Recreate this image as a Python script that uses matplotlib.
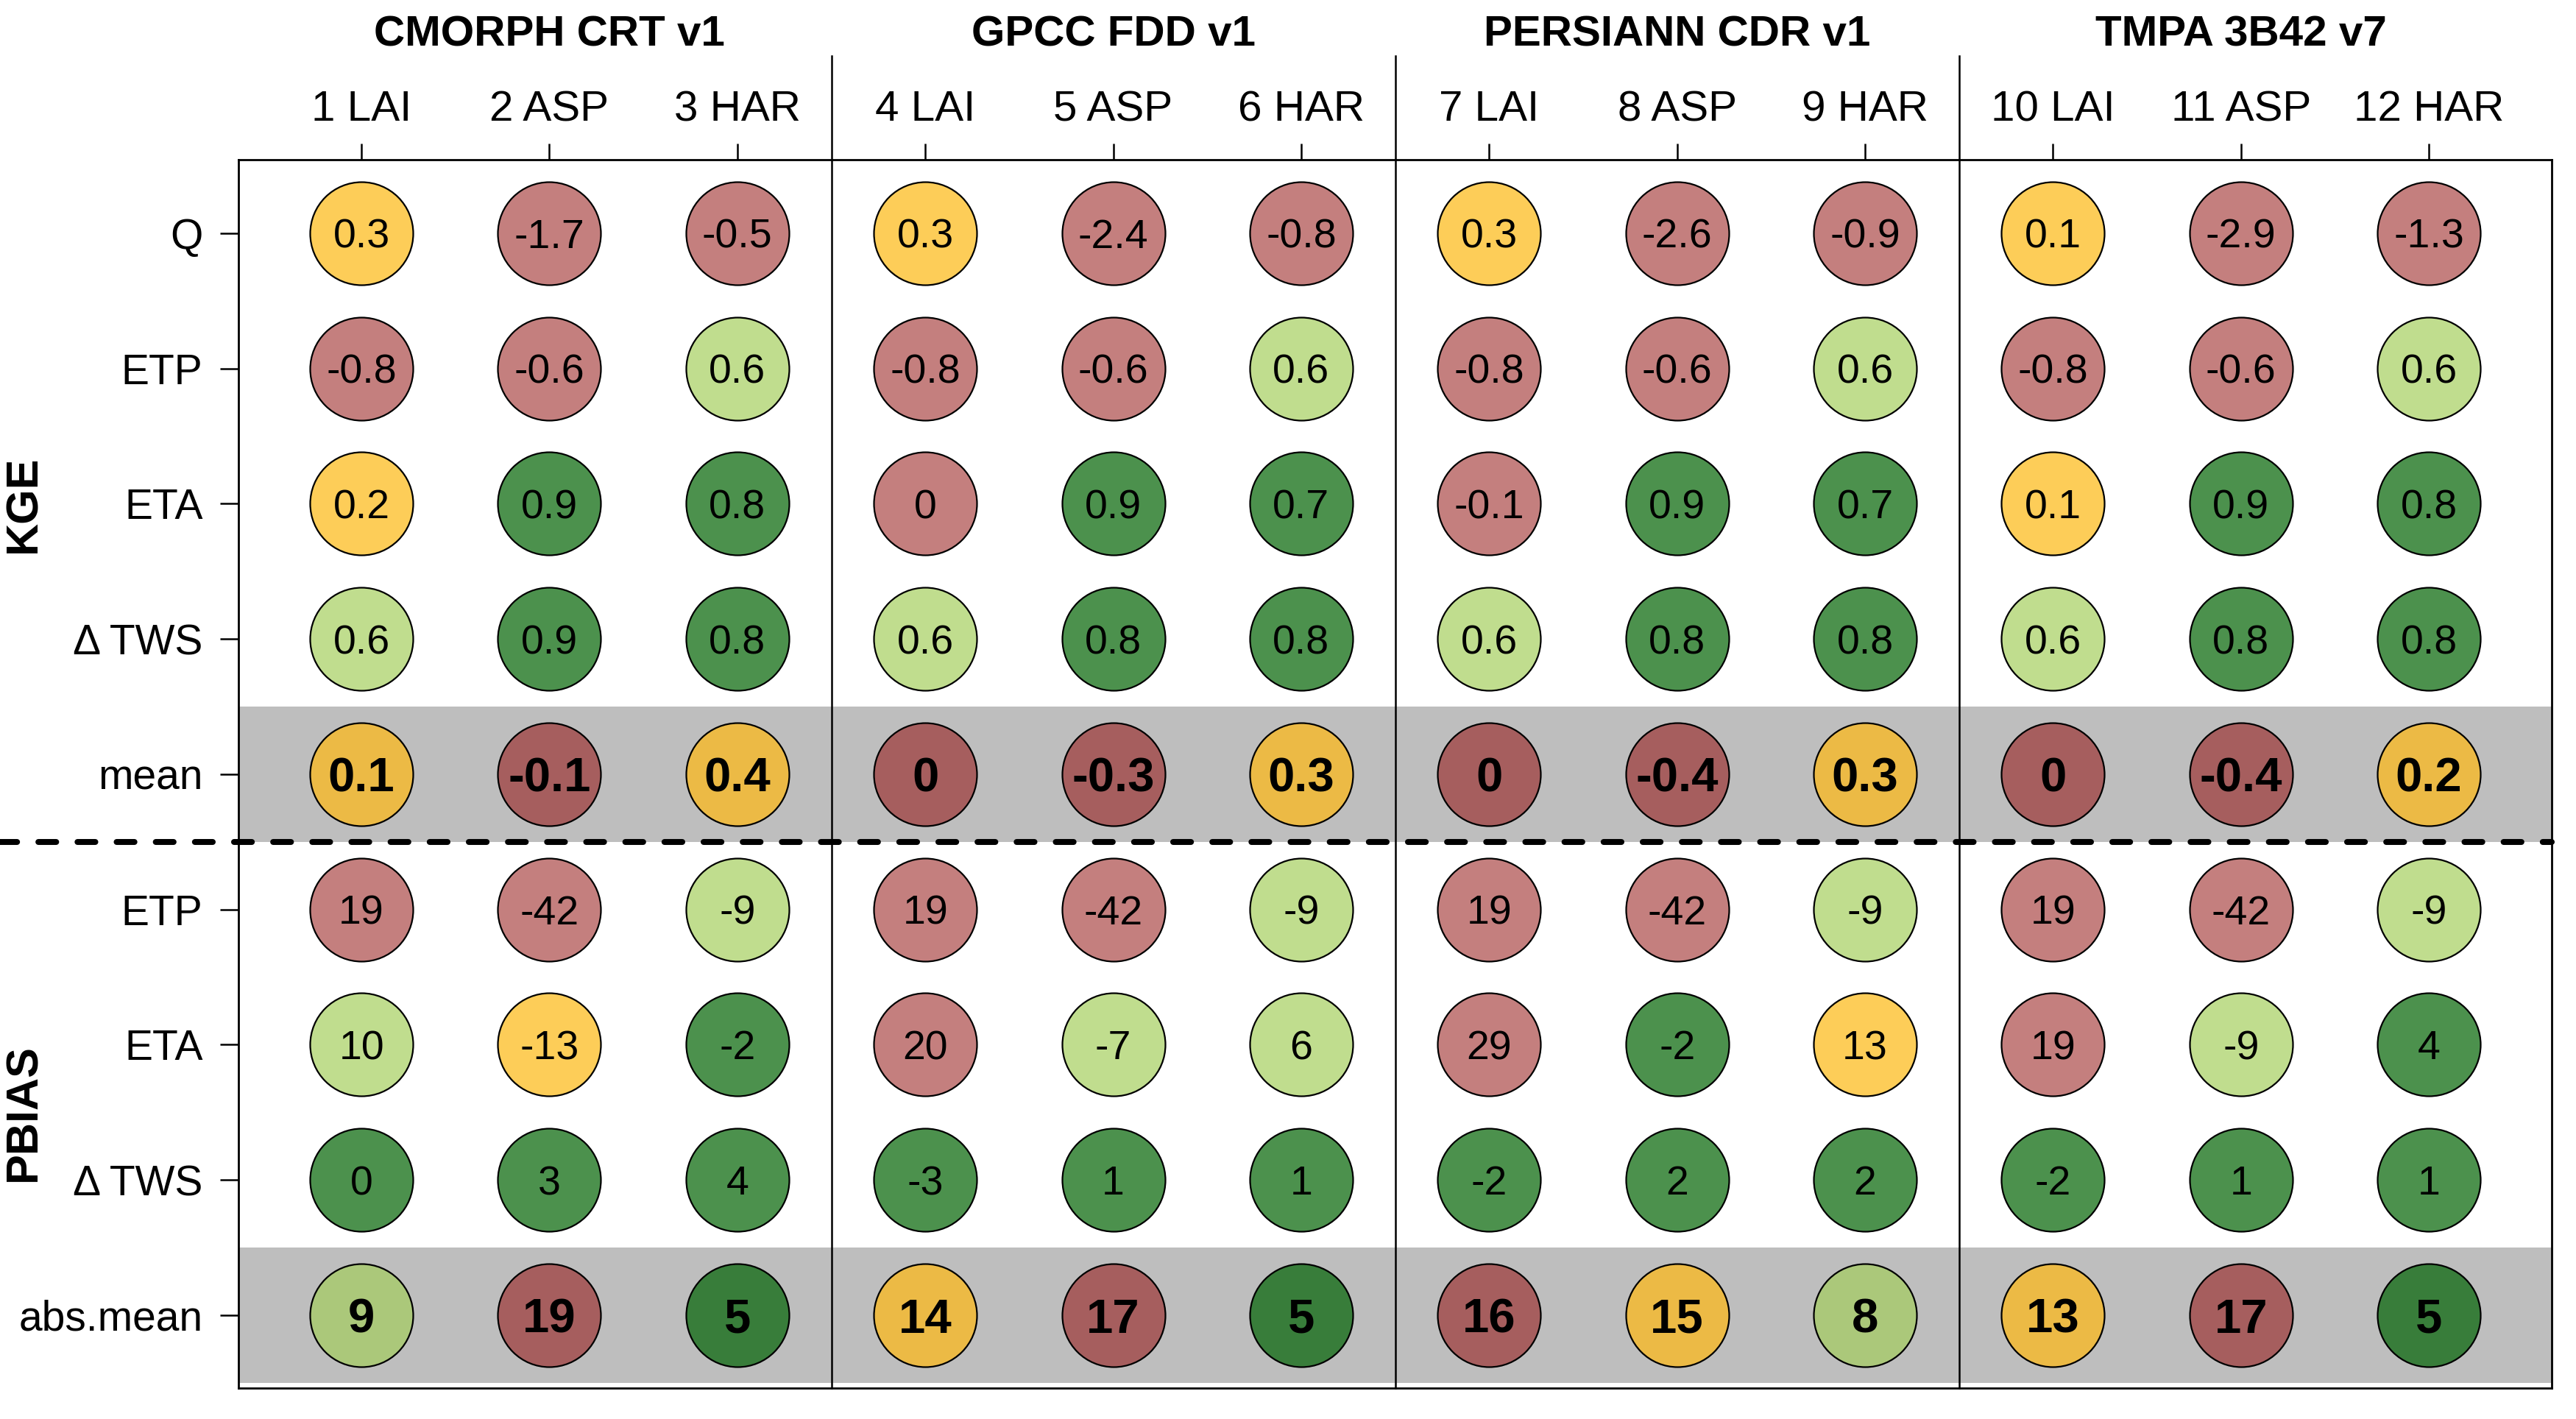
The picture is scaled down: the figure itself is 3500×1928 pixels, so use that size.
import matplotlib
matplotlib.use("Agg")
import matplotlib.pyplot as plt
import matplotlib.transforms as mtransforms

plt.rcParams['font.family'] = ['Liberation Sans', 'DejaVu Sans']

# ---------------- data ----------------
products = ["CMORPH CRT v1", "GPCC FDD v1", "PERSIANN CDR v1", "TMPA 3B42 v7"]
columns = ["1 LAI", "2 ASP", "3 HAR", "4 LAI", "5 ASP", "6 HAR",
           "7 LAI", "8 ASP", "9 HAR", "10 LAI", "11 ASP", "12 HAR"]
row_labels = ["Q", "ETP", "ETA", "Δ TWS", "mean", "ETP", "ETA", "Δ TWS", "abs.mean"]

kge_q    = [0.3, -1.7, -0.5, 0.3, -2.4, -0.8, 0.3, -2.6, -0.9, 0.1, -2.9, -1.3]
kge_etp  = [-0.8, -0.6, 0.6, -0.8, -0.6, 0.6, -0.8, -0.6, 0.6, -0.8, -0.6, 0.6]
kge_eta  = [0.2, 0.9, 0.8, 0, 0.9, 0.7, -0.1, 0.9, 0.7, 0.1, 0.9, 0.8]
kge_tws  = [0.6, 0.9, 0.8, 0.6, 0.8, 0.8, 0.6, 0.8, 0.8, 0.6, 0.8, 0.8]
kge_mean = [0.1, -0.1, 0.4, 0, -0.3, 0.3, 0, -0.4, 0.3, 0, -0.4, 0.2]

pb_etp   = [19, -42, -9, 19, -42, -9, 19, -42, -9, 19, -42, -9]
pb_eta   = [10, -13, -2, 20, -7, 6, 29, -2, 13, 19, -9, 4]
pb_tws   = [0, 3, 4, -3, 1, 1, -2, 2, 2, -2, 1, 1]
pb_absm  = [9, 19, 5, 14, 17, 5, 16, 15, 8, 13, 17, 5]

rows = [("kge", kge_q), ("kge", kge_etp), ("kge", kge_eta), ("kge", kge_tws),
        ("kge", kge_mean), ("pb", pb_etp), ("pb", pb_eta), ("pb", pb_tws),
        ("pb", pb_absm)]
summary_rows = [4, 8]

# category colours: (normal, summary-row)
cat_colors = {
    "dg": ("#4C914D", "#387D3A"),
    "lg": ("#C0DD8E", "#ABC87A"),
    "ye": ("#FDCD58", "#ECBA45"),
    "re": ("#C47F7E", "#A65E5E"),
}


def category(kind, v):
    if kind == "kge":
        if v >= 0.7:
            return "dg"
        if v >= 0.5:
            return "lg"
        if v > 0:
            return "ye"
        return "re"
    a = abs(v)
    if a <= 5:
        return "dg"
    if a <= 10:
        return "lg"
    if a <= 15:
        return "ye"
    return "re"


# ---------------- figure ----------------
DPI = 200
fig = plt.figure(figsize=(3500 / DPI, 1928 / DPI), dpi=DPI)
ax = fig.add_axes([0.0926, 0.0218, 0.8980, 0.8659])

ncol = len(columns)
nrow = len(row_labels)
ax.set_xlim(-0.654, ncol - 1 + 0.654)
ax.set_ylim(nrow - 1 + 0.54, -0.546)

# grey bands for summary rows
for r in summary_rows:
    ax.axhspan(r - 0.5, r + 0.5, color="#BEBEBE", zorder=0, lw=0)

# circles
for r, (kind, vals) in enumerate(rows):
    bold = r in summary_rows
    fs = 23.5 if bold else 20
    ttrans = mtransforms.offset_copy(ax.transData, fig=fig, x=0,
                                     y=-0.11 * fs, units="points")
    for c, v in enumerate(vals):
        cat = category(kind, v)
        col = cat_colors[cat][1 if bold else 0]
        ax.scatter([c], [r], s=2540, c=col, edgecolors="black",
                   linewidths=0.8, zorder=3)
        ax.text(c, r, f"{v:g}", ha="center", va="center", transform=ttrans,
                fontsize=fs, fontweight="bold" if bold else "normal", zorder=4)

# dividers between products
trans_xd = mtransforms.blended_transform_factory(ax.transData, ax.transAxes)
for xd in [2.5, 5.5, 8.5]:
    ax.plot([xd, xd], [0, 1.084], transform=trans_xd, color="black",
            lw=0.9, clip_on=False, zorder=5)

# dashed separator between KGE and PBIAS
trans_ay = mtransforms.blended_transform_factory(ax.transAxes, ax.transData)
ax.plot([-0.104, 1.0], [4.5, 4.5], transform=trans_ay, color="black",
        lw=2.9, ls=(0, (3.0, 3.6)), dash_capstyle="round",
        clip_on=False, zorder=6)

# product titles
for i, p in enumerate(products):
    ax.text(3 * i + 1, 1.1015, p, transform=trans_xd, ha="center",
            va="center", fontsize=21, fontweight="bold")

# ticks
ax.xaxis.tick_top()
ax.set_xticks(range(ncol))
ax.set_xticklabels(columns, fontsize=21)
ax.set_yticks(range(nrow))
ax.set_yticklabels(row_labels, fontsize=20.5)
ax.tick_params(axis="x", length=8, width=0.9, pad=6.5)
ax.tick_params(axis="y", length=9, width=0.9, pad=8.5)
for s in ax.spines.values():
    s.set_linewidth(1.0)

# group labels
def row_to_fig(y):
    disp = ax.transData.transform((0, y))
    return fig.transFigure.inverted().transform(disp)[1]

fig.text(33 / 3500, row_to_fig(2.0), "KGE", rotation=90, ha="center",
         va="center", fontsize=22, fontweight="bold")
fig.text(33 / 3500, row_to_fig(6.5), "PBIAS", rotation=90, ha="center",
         va="center", fontsize=22, fontweight="bold")

fig.savefig("out.png", dpi=DPI, facecolor="white")
